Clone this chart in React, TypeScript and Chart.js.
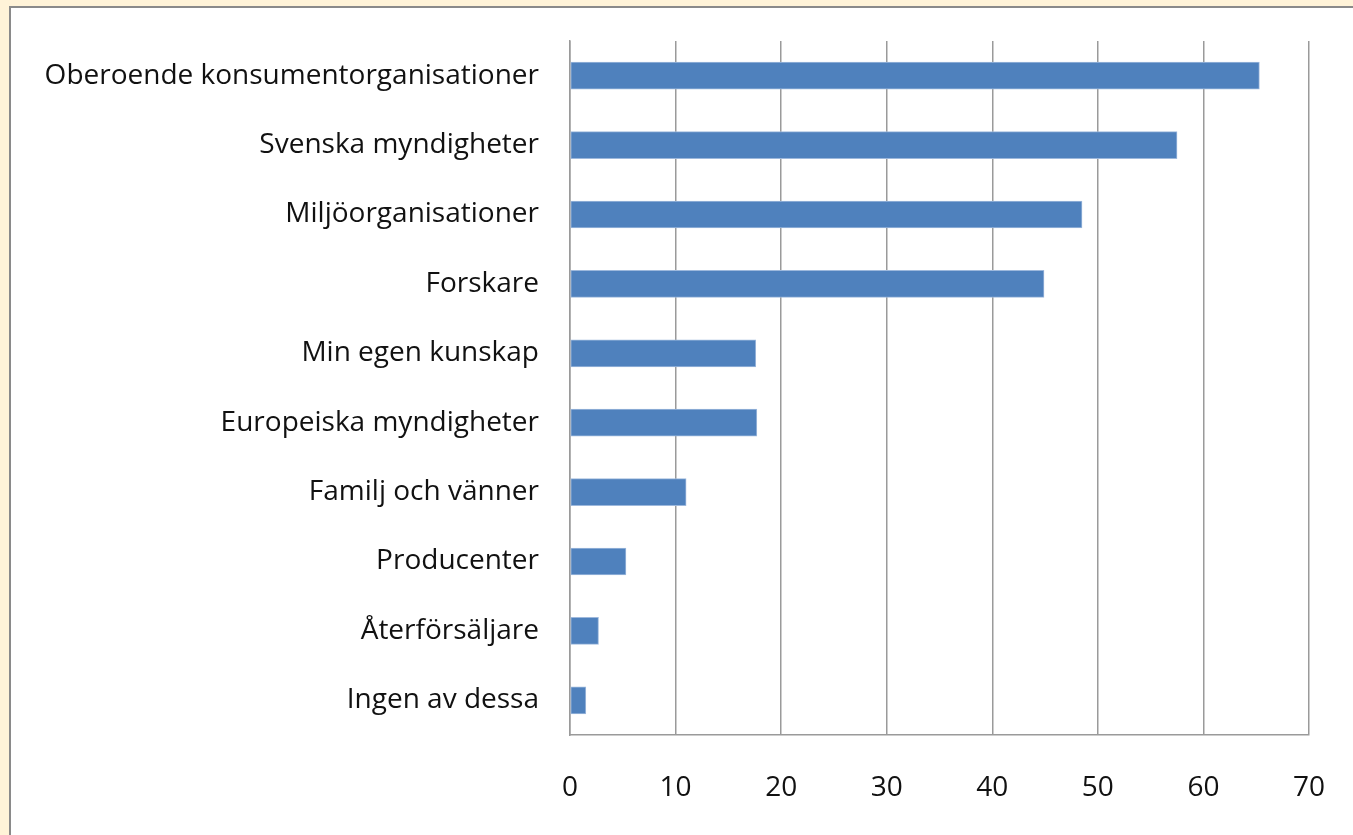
import React, { useEffect, useRef } from "react";
import { Chart, registerables } from "chart.js";

Chart.register(...registerables);

const categories = [
  "Oberoende konsumentorganisationer",
  "Svenska myndigheter",
  "Miljöorganisationer",
  "Forskare",
  "Min egen kunskap",
  "Europeiska myndigheter",
  "Familj och vänner",
  "Producenter",
  "Återförsäljare",
  "Ingen av dessa",
];
const values = [65.3, 57.5, 48.5, 44.9, 17.6, 17.7, 11.0, 5.3, 2.7, 1.5];
const axisMin = 0;
const axisMax = 70;
const axisStep = 10;

const FONT = "'Open Sans', Lato, sans-serif";

export default function App() {
  const ref = useRef<HTMLCanvasElement | null>(null);

  useEffect(() => {
    if (!ref.current) return;
    const chart = new Chart(ref.current, {
      type: "bar",
      data: {
        labels: categories,
        datasets: [
          {
            data: values,
            backgroundColor: "#4F81BD",
            borderColor: "#9DB8DC",
            borderWidth: 1,
            borderSkipped: false,
            barThickness: 27,
          },
        ],
      },
      options: {
        indexAxis: "y",
        animation: false,
        responsive: false,
        maintainAspectRatio: false,
        layout: { padding: { top: 41, right: 44, left: 0, bottom: 0 } },
        plugins: {
          legend: { display: false },
          tooltip: { enabled: false },
        },
        scales: {
          x: {
            min: axisMin,
            max: axisMax,
            ticks: {
              stepSize: axisStep,
              color: "#111111",
              font: { family: FONT, size: 28 },
              padding: 36,
            },
            grid: {
              color: "#9a9a9a",
              lineWidth: 1.5,
              drawTicks: false,
            },
            border: { color: "#9a9a9a", width: 1.5 },
            afterFit: (scale: any) => {
              scale.height = 100;
              scale.paddingLeft = 0;
              scale.paddingRight = 0;
            },
          },
          y: {
            ticks: {
              color: "#111111",
              font: { family: FONT, size: 28 },
              padding: 31,
            },
            grid: { display: false, drawTicks: false },
            border: { color: "#9a9a9a", width: 1.5 },
            afterFit: (scale: any) => {
              scale.width = 570;
              scale.paddingTop = 0;
              scale.paddingBottom = 0;
            },
          },
        },
      },
    });
    return () => chart.destroy();
  }, []);

  return (
    <div
      style={{
        position: "fixed",
        left: 0,
        top: 0,
        width: 1353,
        height: 835,
        background: "#FFF3D8",
        overflow: "hidden",
      }}
    >
      <div
        style={{
          position: "absolute",
          left: 9,
          top: 6,
          width: 1400,
          height: 900,
          background: "#FFFFFF",
          borderLeft: "2px solid #8a8a8a",
          borderTop: "2px solid #8a8a8a",
        }}
      />
      <canvas
        ref={ref}
        width={1353}
        height={835}
        style={{ position: "absolute", left: 0, top: 0, width: 1353, height: 835 }}
      />
    </div>
  );
}
